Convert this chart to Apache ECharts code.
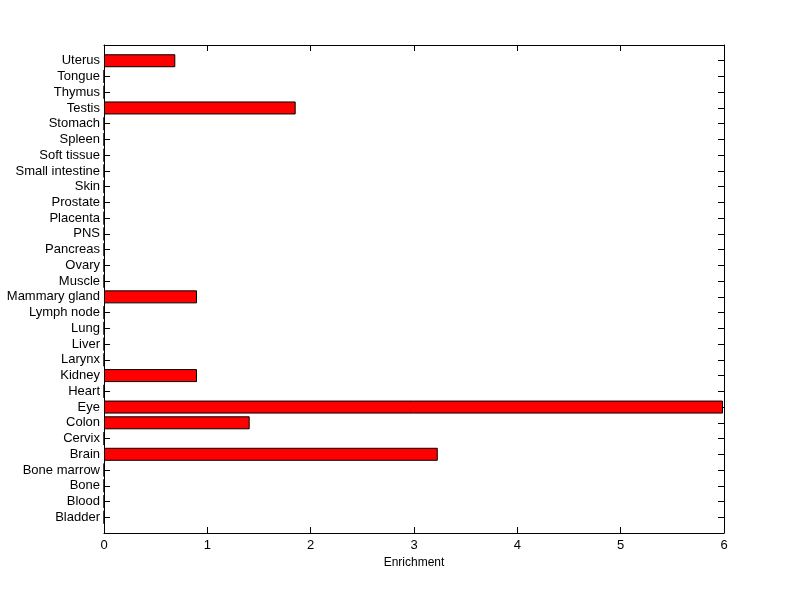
<!DOCTYPE html>
<html>
<head>
<meta charset="utf-8">
<script src="https://cdn.jsdelivr.net/npm/echarts@6/dist/echarts.min.js"></script>
<style>html,body{margin:0;padding:0;background:#fff;}#c{width:800px;height:599px;}</style>
</head>
<body>
<div id="c"></div>
<script>
var categories = ['', 'Bladder', 'Blood', 'Bone', 'Bone marrow', 'Brain', 'Cervix', 'Colon', 'Eye', 'Heart', 'Kidney', 'Larynx', 'Liver', 'Lung', 'Lymph node', 'Mammary gland', 'Muscle', 'Ovary', 'Pancreas', 'PNS', 'Placenta', 'Prostate', 'Skin', 'Small intestine', 'Soft tissue', 'Spleen', 'Stomach', 'Testis', 'Thymus', 'Tongue', 'Uterus', ''];
var enrichment = [null, 0, 0, 0, 0, 3.23, 0, 1.41, 5.99, 0, 0.90, 0, 0, 0, 0, 0.90, 0, 0, 0, 0, 0, 0, 0, 0, 0, 0, 0, 1.855, 0, 0, 0.69, null];
var xTicks = [0, 1, 2, 3, 4, 5, 6];

var chart = echarts.init(document.getElementById('c'), null, {renderer: 'canvas'});
var font = 'Liberation Sans, Arial, sans-serif';
var lineStyle = {color: '#000', width: 1};
chart.setOption({
  backgroundColor: '#fff',
  animation: false,
  grid: {left: 104, right: 76, top: 45, bottom: 66, containLabel: false},
  xAxis: [{
    type: 'value', min: xTicks[0], max: xTicks[xTicks.length - 1], interval: 1,
    position: 'bottom',
    axisLine: {show: true, onZero: false, lineStyle: lineStyle},
    axisTick: {show: true, inside: true, length: 6, lineStyle: lineStyle},
    axisLabel: {color: '#000', fontSize: 13, fontFamily: font, margin: 6},
    splitLine: {show: false},
    name: 'Enrichment', nameLocation: 'middle', nameGap: 24,
    nameTextStyle: {color: '#000', fontSize: 12, fontFamily: font}
  }, {
    type: 'value', min: xTicks[0], max: xTicks[xTicks.length - 1], interval: 1,
    position: 'top',
    axisLine: {show: true, onZero: false, lineStyle: lineStyle},
    axisTick: {show: true, inside: true, length: 6, lineStyle: lineStyle},
    axisLabel: {show: false},
    splitLine: {show: false}
  }],
  yAxis: [{
    type: 'category', data: categories, boundaryGap: false,
    position: 'left',
    axisLine: {show: true, onZero: false, lineStyle: lineStyle},
    axisTick: {show: true, inside: true, length: 6, lineStyle: lineStyle, interval: 0},
    axisLabel: {color: '#000', fontSize: 13, fontFamily: font, margin: 4, interval: 0},
    splitLine: {show: false}
  }, {
    type: 'category', data: categories, boundaryGap: false,
    position: 'right',
    axisLine: {show: true, onZero: false, lineStyle: lineStyle},
    axisTick: {show: true, inside: true, length: 6, lineStyle: lineStyle, interval: 0},
    axisLabel: {show: false},
    splitLine: {show: false}
  }],
  series: [{
    type: 'bar',
    xAxisIndex: 0, yAxisIndex: 0,
    data: enrichment,
    barWidth: 13,
    itemStyle: {color: '#ff0000', borderColor: '#000', borderWidth: 1}
  }]
});
</script>
</body>
</html>
